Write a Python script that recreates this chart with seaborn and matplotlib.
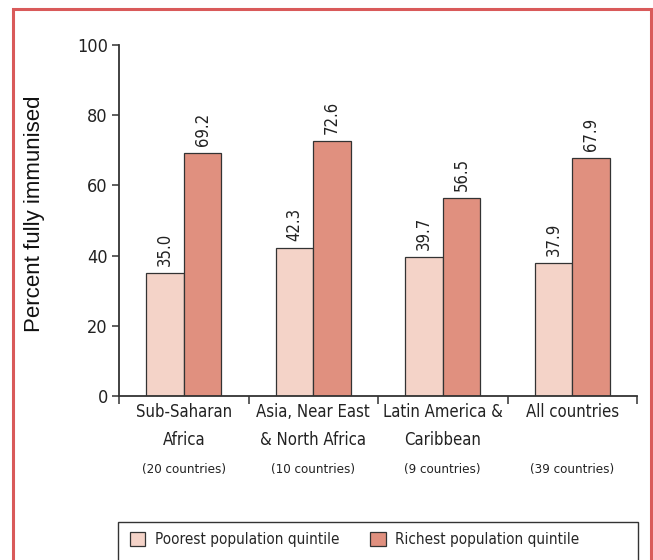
import numpy as np
import pandas as pd
import matplotlib
matplotlib.use("Agg")
import matplotlib.pyplot as plt
import matplotlib.transforms as mtransforms
from matplotlib.patches import Rectangle
import seaborn as sns

# datos
regions = ["Sub-Saharan\nAfrica", "Asia, Near East\n& North Africa", "Latin America &\nCaribbean", "All countries"]
counts = ["(20 countries)", "(10 countries)", "(9 countries)", "(39 countries)"]
groups = ["Poorest population quintile", "Richest population quintile"]
poorest = [35.0, 42.3, 39.7, 37.9]
richest = [69.2, 72.6, 56.5, 67.9]
yticks = [0, 20, 40, 60, 80, 100]

df = pd.DataFrame({
    "region": regions * 2,
    "group": [groups[0]] * 4 + [groups[1]] * 4,
    "value": poorest + richest,
})

sns.set_theme(style="ticks")
plt.rcParams["font.family"] = ["DejaVu Sans"]
plt.rcParams["font.stretch"] = "condensed"
dark = "#333333"
colors = ["#F4D3C8", "#E0907F"]

fig = plt.figure(figsize=(6.53, 5.60), dpi=100, facecolor="white")
ax = fig.add_axes([119 / 653, 1 - 396 / 560, (637 - 119) / 653, (396 - 45) / 560])

sns.barplot(data=df, x="region", y="value", hue="group", palette=colors, saturation=1,
            width=0.58, edgecolor=dark, linewidth=0.9, ax=ax)

for cont in ax.containers:
    ax.bar_label(cont, fmt="%.1f", rotation=90, padding=5, fontsize=12, color="#222222")

ax.set_xlim(-0.5, 3.5)
ax.set_ylim(0, 100)
ax.set_yticks(yticks)
ax.set_yticklabels([str(t) for t in yticks], fontsize=13, color="#222222")
ax.set_xlabel("")
ax.set_ylabel("")
ax.set_xticks(range(4))
ax.set_xticklabels(regions, fontsize=12, color="#222222", linespacing=1.7)
ax.set_xticks([-0.5, 0.5, 1.5, 2.5, 3.5], minor=True)
ax.tick_params(axis="x", which="major", length=0, pad=5)
ax.tick_params(axis="x", which="minor", length=6, width=1.1, color=dark, direction="out")
ax.tick_params(axis="y", length=5, width=1.1, color=dark, pad=3)

sns.despine(ax=ax)
for s in ["left", "bottom"]:
    ax.spines[s].set_color(dark)
    ax.spines[s].set_linewidth(1.3)

trans = mtransforms.blended_transform_factory(ax.transData, ax.transAxes)
for i, c in enumerate(counts):
    ax.text(i, -0.208, c, transform=trans, ha="center", va="center",
            fontsize=9.5, color="#222222")

fig.text(35 / 653, 1 - 214 / 560, "Percent fully immunised", rotation=90,
         ha="center", va="center", fontsize=16, family=["Liberation Sans", "DejaVu Sans"],
         stretch="normal", color="#111111")

# leyenda con marco propio (sale por abajo de la imagen)
handles, labels = ax.get_legend_handles_labels()
ax.get_legend().remove()
leg = fig.legend(handles, labels, loc="upper left", ncol=2,
                 bbox_to_anchor=(130 / 653, 1 - 532 / 560),
                 frameon=False, fontsize=11, handlelength=1.0,
                 handleheight=1.0, handletextpad=0.65, columnspacing=2.0,
                 borderaxespad=0, borderpad=0)
fig.patches.append(Rectangle((118 / 653, -0.1), (638 - 118) / 653, 0.1 + 1 - 522 / 560,
                             transform=fig.transFigure, fill=False,
                             edgecolor=dark, linewidth=1.0))

# marco rojo
fig.patches.append(Rectangle((13 / 653, -0.1), (651 - 13) / 653, 1 - 9 / 560 + 0.1,
                             transform=fig.transFigure, fill=False,
                             edgecolor="#D95A5A", linewidth=2.2))

fig.savefig("out.png", dpi=100, facecolor="white")
